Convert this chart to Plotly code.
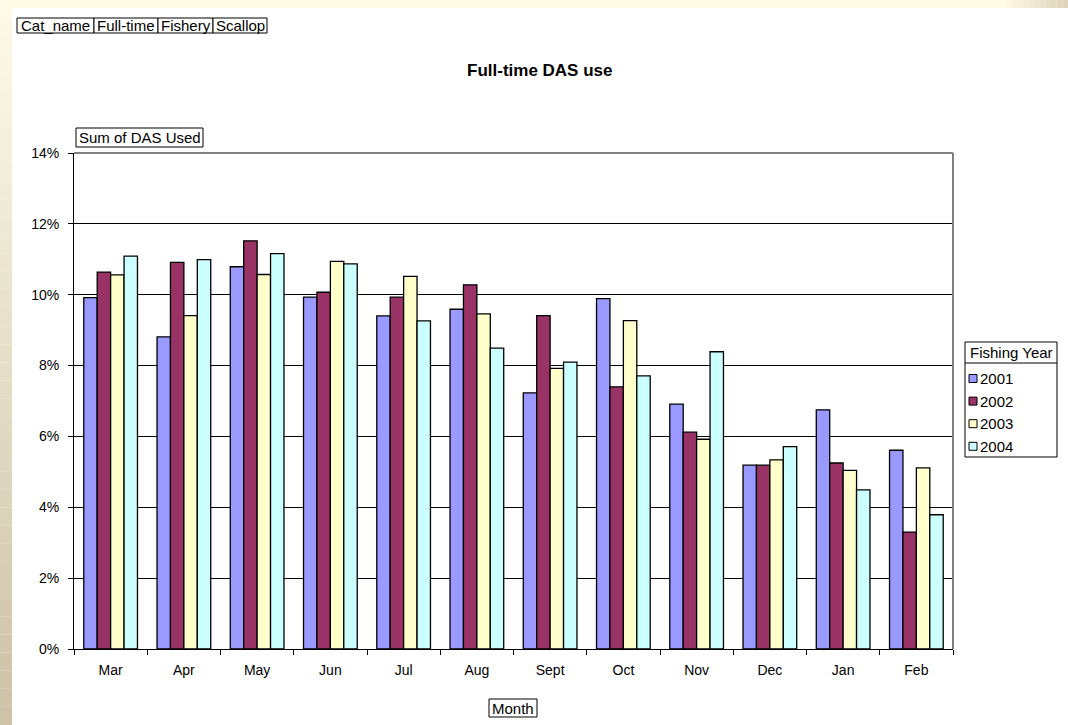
import plotly.graph_objects as go

# Monthly share of full-time scallop days-at-sea used, by fishing year (percent)
months = ["Mar", "Apr", "May", "Jun", "Jul", "Aug", "Sept", "Oct", "Nov", "Dec", "Jan", "Feb"]
years = ["2001", "2002", "2003", "2004"]
use_2001 = [9.92, 8.81, 10.79, 9.93, 9.40, 9.59, 7.23, 9.89, 6.91, 5.19, 6.75, 5.61]
use_2002 = [10.64, 10.91, 11.52, 10.07, 9.93, 10.28, 9.41, 7.40, 6.12, 5.19, 5.25, 3.30]
use_2003 = [10.56, 9.41, 10.57, 10.94, 10.52, 9.46, 7.92, 9.27, 5.92, 5.34, 5.04, 5.11]
use_2004 = [11.09, 10.99, 11.16, 10.87, 9.26, 8.49, 8.10, 7.71, 8.39, 5.71, 4.49, 3.79]
series = [use_2001, use_2002, use_2003, use_2004]
colors = ["#9999FF", "#993366", "#FFFFCC", "#CCFFFF"]
y_ticks = [0, 2, 4, 6, 8, 10, 12, 14]

FONT = "Liberation Sans, Arial, sans-serif"
W, H = 1068, 725
PL, PR, PT, PB = 74, 953, 153, 649


def px(x):
    return (x - PL) / (PR - PL)


def py(y):
    return (PB - y) / (PB - PT)


fig = go.Figure()
for name, vals, col in zip(years, series, colors):
    fig.add_trace(go.Bar(
        x=months, y=vals, name=name,
        marker=dict(color=col, line=dict(color="black", width=1.3)),
        showlegend=False,
    ))

shapes = []
annotations = []

# page background: cream top band and shaded left edge
n = 40
for i in range(n):
    t = i / (n - 1)
    r = int(253 + (206 - 253) * t)
    g = int(251 + (194 - 251) * t)
    b = int(232 + (168 - 232) * t)
    y0 = H * i / n
    y1 = H * (i + 1) / n
    shapes.append(dict(type="rect", xref="paper", yref="paper", layer="below",
                       x0=px(0), x1=px(12), y0=py(y0), y1=py(y1),
                       fillcolor=f"rgb({r},{g},{b})", line=dict(width=0)))
shapes.append(dict(type="rect", xref="paper", yref="paper", layer="below",
                   x0=px(12), x1=px(1000), y0=py(0), y1=py(8),
                   fillcolor="#FFFCE6", line=dict(width=0)))
m = 12
for i in range(m):
    t = i / (m - 1)
    r = int(255 + (222 - 255) * t)
    g = int(252 + (212 - 252) * t)
    b = int(230 + (190 - 230) * t)
    x0 = 1000 + 68 * i / m
    x1 = 1000 + 68 * (i + 1) / m
    shapes.append(dict(type="rect", xref="paper", yref="paper", layer="below",
                       x0=px(x0), x1=px(x1), y0=py(0), y1=py(8),
                       fillcolor=f"rgb({r},{g},{b})", line=dict(width=0)))

# plot area frame (top and right edges)
shapes.append(dict(type="line", xref="paper", yref="paper", x0=0, x1=1, y0=1, y1=1,
                   line=dict(color="#808080", width=2)))
shapes.append(dict(type="line", xref="paper", yref="paper", x0=1, x1=1, y0=0, y1=1,
                   line=dict(color="#808080", width=2)))


def field_box(x0, y0, x1, y1, text, size=15):
    shapes.append(dict(type="rect", xref="paper", yref="paper",
                       x0=px(x0), x1=px(x1), y0=py(y0), y1=py(y1),
                       fillcolor="white", line=dict(color="black", width=1)))
    annotations.append(dict(xref="paper", yref="paper", x=px((x0 + x1) / 2), y=py((y0 + y1) / 2),
                            text=text, showarrow=False, xanchor="center", yanchor="middle",
                            font=dict(family=FONT, size=size, color="black")))


# page field buttons
edges = [17, 94, 158, 213, 267]
for i, label in enumerate(["Cat_name", "Full-time", "Fishery", "Scallop"]):
    field_box(edges[i], 18, edges[i + 1], 33, label)
field_box(76, 128, 203, 147, "Sum of DAS Used")
field_box(489, 699, 537, 717, "Month")

# legend
shapes.append(dict(type="rect", xref="paper", yref="paper",
                   x0=px(965), x1=px(1057), y0=py(342), y1=py(457),
                   fillcolor="white", line=dict(color="black", width=1)))
shapes.append(dict(type="line", xref="paper", yref="paper",
                   x0=px(965), x1=px(1057), y0=py(363), y1=py(363),
                   line=dict(color="black", width=1)))
annotations.append(dict(xref="paper", yref="paper", x=px(968), y=py(352.5), text="Fishing Year",
                        showarrow=False, xanchor="left", yanchor="middle",
                        font=dict(family=FONT, size=15, color="black")))
for i, (name, col) in enumerate(zip(years, colors)):
    cy = 378.5 + 22.6 * i
    shapes.append(dict(type="rect", xref="paper", yref="paper",
                       x0=px(969), x1=px(977), y0=py(cy - 4), y1=py(cy + 4),
                       fillcolor=col, line=dict(color="black", width=1)))
    annotations.append(dict(xref="paper", yref="paper", x=px(978), y=py(cy), text=name,
                            showarrow=False, xanchor="left", yanchor="middle",
                            font=dict(family=FONT, size=15, color="black")))

# chart title
annotations.append(dict(xref="paper", yref="paper", x=px(539), y=py(70.5),
                        text="<b>Full-time DAS use</b>", showarrow=False,
                        xanchor="center", yanchor="middle",
                        font=dict(family=FONT, size=17, color="black")))

fig.update_layout(
    width=W, height=H, autosize=False,
    margin=dict(l=PL, r=W - PR, t=PT, b=H - PB, pad=0),
    paper_bgcolor="white", plot_bgcolor="white",
    barmode="group", bargap=0.267, bargroupgap=0,
    font=dict(family=FONT, size=14, color="black"),
    shapes=shapes, annotations=annotations,
    xaxis=dict(type="category", showline=True, linecolor="black", linewidth=1,
               ticks="outside", tickson="boundaries", ticklen=5, tickcolor="black",
               showgrid=False, tickfont=dict(size=14), ticklabelstandoff=8),
    yaxis=dict(range=[0, 14], tickvals=y_ticks, ticktext=[f"{v}%" for v in y_ticks],
               showline=True, linecolor="black", linewidth=1,
               ticks="outside", ticklen=5, tickcolor="black",
               showgrid=True, gridcolor="black", gridwidth=1, zeroline=False,
               tickfont=dict(size=14), ticklabelstandoff=6),
)

fig.write_html("out.html")
